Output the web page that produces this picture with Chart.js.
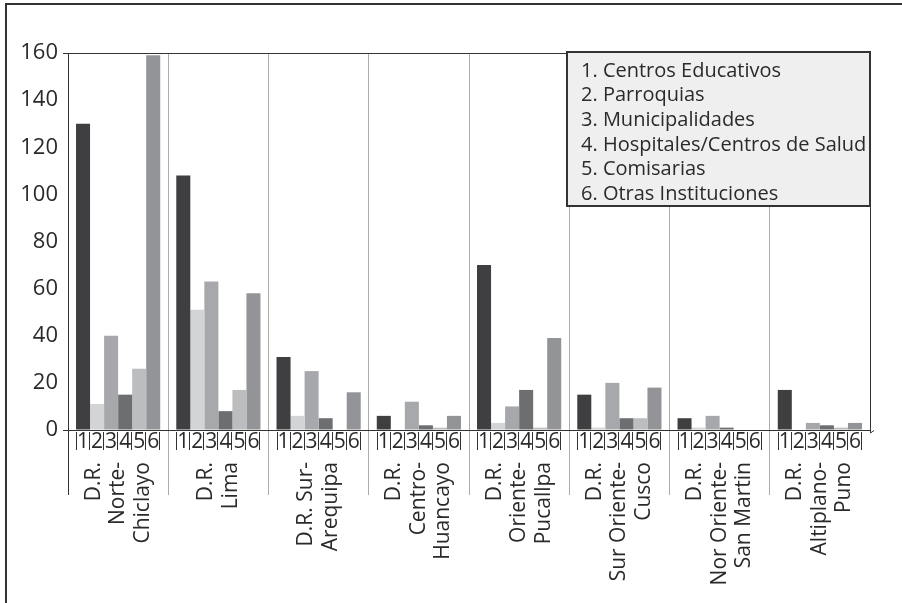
<!DOCTYPE html>
<html>
<head>
<meta charset="utf-8">
<title>Instituciones por Dirección Regional</title>
<script src="https://cdn.jsdelivr.net/npm/chart.js@4.4.1/dist/chart.umd.min.js"></script>
<style>
  html, body { margin: 0; padding: 0; background: #fff; }
  #wrap { width: 902px; height: 603px; }
</style>
</head>
<body>
<div id="wrap"><canvas id="chart" width="902" height="603"></canvas></div>
<script>
// Regional directorates (one label line per array entry)
const regiones = [
  ['D.R.', 'Norte-', 'Chiclayo'],
  ['D.R.', 'Lima'],
  ['D.R. Sur-', 'Arequipa'],
  ['D.R.', 'Centro-', 'Huancayo'],
  ['D.R.', 'Oriente-', 'Pucallpa'],
  ['D.R.', 'Sur Oriente-', 'Cusco'],
  ['D.R.', 'Nor Oriente-', 'San Martin'],
  ['D.R.', 'Altiplano-', 'Puno']
];

const instituciones = [
  '1. Centros Educativos',
  '2. Parroquias',
  '3. Municipalidades',
  '4. Hospitales/Centros de Salud',
  '5. Comisarias',
  '6. Otras Instituciones'
];

const centrosEducativos = [130, 108, 31, 6, 70, 15, 5, 17];
const parroquias        = [11, 51, 6, 0, 3, 1, 1, 0];
const municipalidades   = [40, 63, 25, 12, 10, 20, 6, 3];
const hospitales        = [15, 8, 5, 2, 17, 5, 1, 2];
const comisarias        = [26, 17, 0, 1, 1, 5, 0, 1];
const otras             = [159, 58, 16, 6, 39, 18, 0, 3];

const yTicks = [0, 20, 40, 60, 80, 100, 120, 140, 160];

const series = [centrosEducativos, parroquias, municipalidades, hospitales, comisarias, otras];
const grises = ['#3f3f41', '#d3d4d6', '#a7a8ab', '#6d6e70', '#bcbdbf', '#939497'];

const FONT = "'Open Sans', 'Noto Sans', sans-serif";
const INK = '#2a2a2a';

// frame, bar numbers, region labels and the key box
const decoraciones = {
  id: 'decoraciones',
  beforeDraw(chart) {
    const ctx = chart.ctx;
    ctx.save();
    ctx.strokeStyle = '#333';
    ctx.lineWidth = 2;
    ctx.beginPath();
    ctx.moveTo(6, 603);
    ctx.lineTo(6, 4);
    ctx.lineTo(902, 4);
    ctx.stroke();
    ctx.restore();
  },
  afterDraw(chart) {
    const ctx = chart.ctx;
    const area = chart.chartArea;
    const xs = chart.scales.x;
    ctx.save();

    // right edge of the plot
    ctx.strokeStyle = '#333';
    ctx.lineWidth = 1;
    ctx.beginPath();
    ctx.moveTo(Math.round(area.right) + 0.5, area.top);
    ctx.lineTo(Math.round(area.right) + 0.5, area.bottom + 3);
    ctx.lineTo(Math.round(area.right) + 4, area.bottom + 0.5);
    ctx.stroke();

    // numbered cells under every bar
    ctx.font = '21px ' + FONT;
    ctx.fillStyle = INK;
    ctx.textAlign = 'center';
    ctx.textBaseline = 'middle';
    for (let i = 0; i < regiones.length; i++) {
      for (let d = 0; d < series.length; d++) {
        const bar = chart.getDatasetMeta(d).data[i];
        const left = bar.x - bar.width / 2;
        const right = bar.x + bar.width / 2;
        ctx.beginPath();
        if (d === 0) {
          ctx.moveTo(Math.round(left) + 0.5, area.bottom + 2);
          ctx.lineTo(Math.round(left) + 0.5, area.bottom + 20);
        }
        ctx.moveTo(Math.round(right) - 0.5, area.bottom + 2);
        ctx.lineTo(Math.round(right) - 0.5, area.bottom + 20);
        ctx.stroke();
        ctx.fillText(String(d + 1), bar.x, area.bottom + 12);
      }
    }

    // rotated region names
    ctx.font = '21px ' + FONT;
    ctx.textAlign = 'right';
    ctx.textBaseline = 'middle';
    const salto = 24.5;
    regiones.forEach((lineas, i) => {
      const cx = xs.getPixelForValue(i);
      lineas.forEach((txt, j) => {
        const x = cx + (j - (lineas.length - 1) / 2) * salto;
        ctx.save();
        ctx.translate(x, area.bottom + 32);
        ctx.rotate(-Math.PI / 2);
        ctx.fillText(txt, 0, 0);
        ctx.restore();
      });
    });

    // key box
    const bx = 567, by = 52, bw = area.right - 567, bh = 154;
    ctx.fillStyle = '#efefef';
    ctx.fillRect(bx, by, bw, bh);
    ctx.strokeStyle = '#333';
    ctx.lineWidth = 2;
    ctx.strokeRect(bx, by, bw, bh);
    ctx.fillStyle = INK;
    ctx.font = '20px ' + FONT;
    ctx.textAlign = 'left';
    ctx.textBaseline = 'middle';
    instituciones.forEach((txt, k) => {
      ctx.fillText(txt, 581, 71 + k * 24.6);
    });

    ctx.restore();
  }
};

new Chart(document.getElementById('chart'), {
  type: 'bar',
  data: {
    labels: regiones.map(r => r.join(' ')),
    datasets: series.map((valores, k) => ({
      label: instituciones[k],
      data: valores,
      backgroundColor: grises[k],
      borderWidth: 0,
      categoryPercentage: 0.84,
      barPercentage: 1.0
    }))
  },
  options: {
    responsive: false,
    animation: false,
    devicePixelRatio: 1,
    layout: { padding: { top: 53, right: 32, left: 0, bottom: 0 } },
    plugins: {
      legend: { display: false },
      tooltip: { enabled: false }
    },
    scales: {
      x: {
        afterFit: s => { s.height = 173; },
        ticks: { display: false },
        grid: {
          offset: true,
          drawTicks: true,
          tickLength: 65,
          lineWidth: 1,
          color: c => c.tick === undefined ? 'rgba(0,0,0,0)' : (c.index === 0 ? '#333' : '#ababab')
        },
        border: { display: true, color: '#333', width: 1 }
      },
      y: {
        min: 0,
        max: 160,
        afterFit: s => { s.width = 68; },
        afterBuildTicks: s => { s.ticks = yTicks.map(v => ({ value: v })); },
        ticks: {
          padding: 5,
          color: INK,
          font: { family: FONT, size: 22 }
        },
        grid: {
          drawTicks: true,
          tickLength: 5,
          lineWidth: 1,
          color: c => (c.tick && (c.tick.value === 0 || c.tick.value === 160)) ? '#333' : 'rgba(0,0,0,0)'
        },
        border: { display: true, color: '#333', width: 1 }
      }
    }
  },
  plugins: [decoraciones]
});
</script>
</body>
</html>
